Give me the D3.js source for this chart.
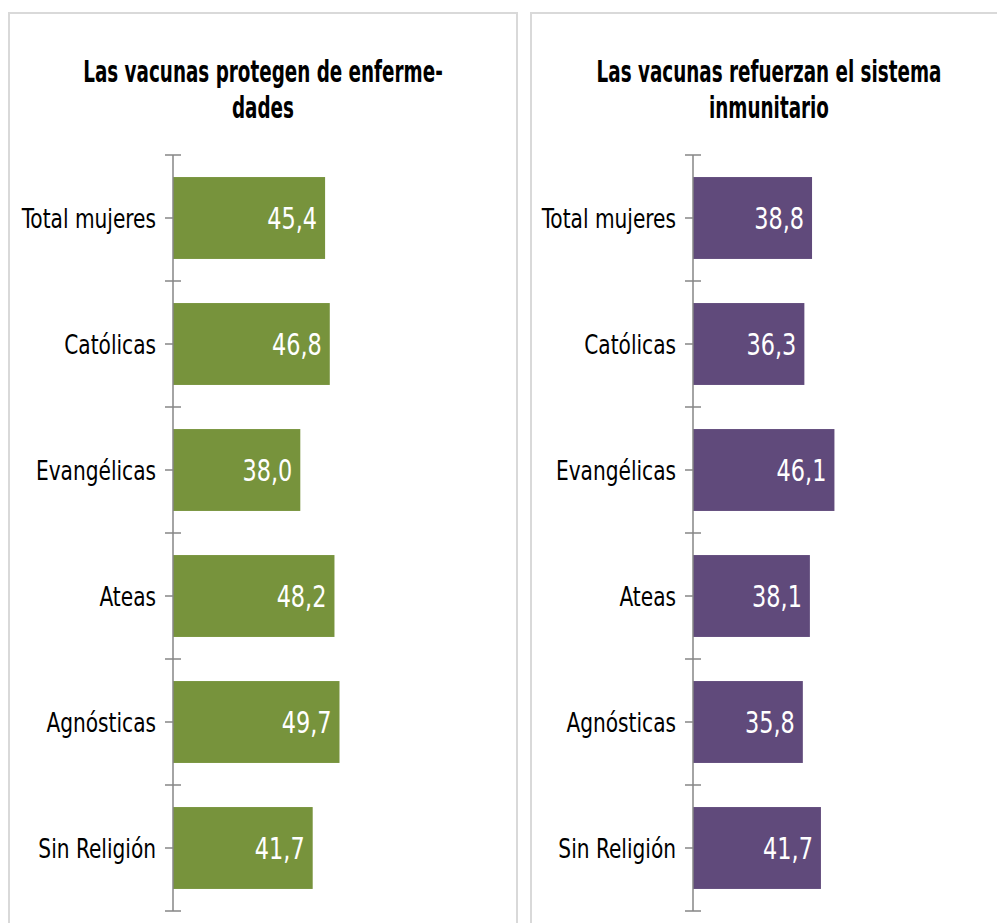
<!DOCTYPE html>
<html><head><meta charset="utf-8">
<script src="https://cdn.jsdelivr.net/npm/d3@7/dist/d3.min.js"></script>
<style>
html,body{margin:0;padding:0;background:#fff;}
svg{display:block;}
</style></head>
<body>
<svg id="chart" width="997" height="923"></svg>
<script>
const categories = ["Total mujeres","Católicas","Evangélicas","Ateas","Agnósticas","Sin Religión"];
const proteccionValues = [45.4, 46.8, 38.0, 48.2, 49.7, 41.7];
const refuerzoValues = [38.8, 36.3, 46.1, 38.1, 35.8, 41.7];
const titles = [["Las vacunas protegen de enferme-","dades"],["Las vacunas refuerzan el sistema","inmunitario"]];
const xMax = [60, 50];

const svg = d3.select("#chart");
const FONT = "'DejaVu Sans Condensed','Liberation Sans Narrow',sans-serif";
const fmt = v => d3.format(".1f")(v).replace(".", ",");

// horizontal compression around the text's anchor x
function compress(sel, f) {
  sel.each(function() {
    const ax = +d3.select(this).attr("x") || 0;
    d3.select(this).attr("transform", `translate(${ax},0) scale(${f},1) translate(${-ax},0)`);
  });
}

const panels = [
  {border:[9,13,508,930], axisX:173, width:201, titleX:263, values:proteccionValues, color:"#77933c", title:titles[0], max:xMax[0]},
  {border:[531,13,508,930], axisX:693, width:153.4, titleX:769, values:refuerzoValues, color:"#604a7b", title:titles[1], max:xMax[1]}
];

const yTop = 155, yBot = 911;

panels.forEach(p => {
  const g = svg.append("g");
  g.append("rect").attr("x",p.border[0]).attr("y",p.border[1]).attr("width",p.border[2]).attr("height",p.border[3])
    .attr("fill","none").attr("stroke","#d9d9d9").attr("stroke-width",2);

  const tt = g.selectAll("text.title").data(p.title).join("text").attr("class","title")
    .attr("text-anchor","middle").attr("font-family",FONT).attr("font-weight","bold")
    .attr("font-size",30).attr("fill","#000")
    .attr("x",p.titleX).attr("y",(d,i)=>82+i*36).text(d=>d);
  compress(tt, 0.68);

  const x = d3.scaleLinear().domain([0,p.max]).range([p.axisX, p.axisX+p.width]);
  const y = d3.scaleBand().domain(categories).range([yTop,yBot]).paddingInner(0.35).paddingOuter(0.175);

  g.selectAll("rect.bar").data(categories).join("rect").attr("class","bar")
    .attr("x",x(0)).attr("y",d=>y(d)).attr("height",y.bandwidth())
    .attr("width",(d,i)=>x(p.values[i])-x(0)).attr("fill",p.color);

  // axis
  const axisG = g.append("g").attr("transform",`translate(${p.axisX},0)`)
    .call(d3.axisLeft(y).tickSize(8).tickPadding(9).tickSizeOuter(0));
  axisG.select(".domain").remove();
  axisG.selectAll(".tick line").attr("stroke","#868686").attr("stroke-width",1.5);
  axisG.selectAll(".tick text").attr("font-family",FONT).attr("font-size",27).attr("fill","#000").attr("dy","0.36em");
  compress(axisG.selectAll(".tick text"), 0.83);
  g.append("line").attr("x1",p.axisX).attr("x2",p.axisX).attr("y1",yTop).attr("y2",yBot)
    .attr("stroke","#868686").attr("stroke-width",1.5);
  const bounds = d3.range(categories.length+1).map(i => yTop + i*y.step());
  g.selectAll("line.bt").data(bounds).join("line").attr("class","bt")
    .attr("x1",p.axisX-8).attr("x2",p.axisX+8).attr("y1",d=>d).attr("y2",d=>d)
    .attr("stroke","#868686").attr("stroke-width",1.5);

  const vals = g.selectAll("text.val").data(categories).join("text").attr("class","val")
    .attr("x",(d,i)=>x(p.values[i])-8).attr("y",d=>y(d)+y.bandwidth()/2).attr("dy","0.37em")
    .attr("text-anchor","end").attr("font-family",FONT).attr("font-size",30).attr("fill","#fff")
    .text((d,i)=>fmt(p.values[i]));
  compress(vals, 0.83);
});
</script>
</body></html>
